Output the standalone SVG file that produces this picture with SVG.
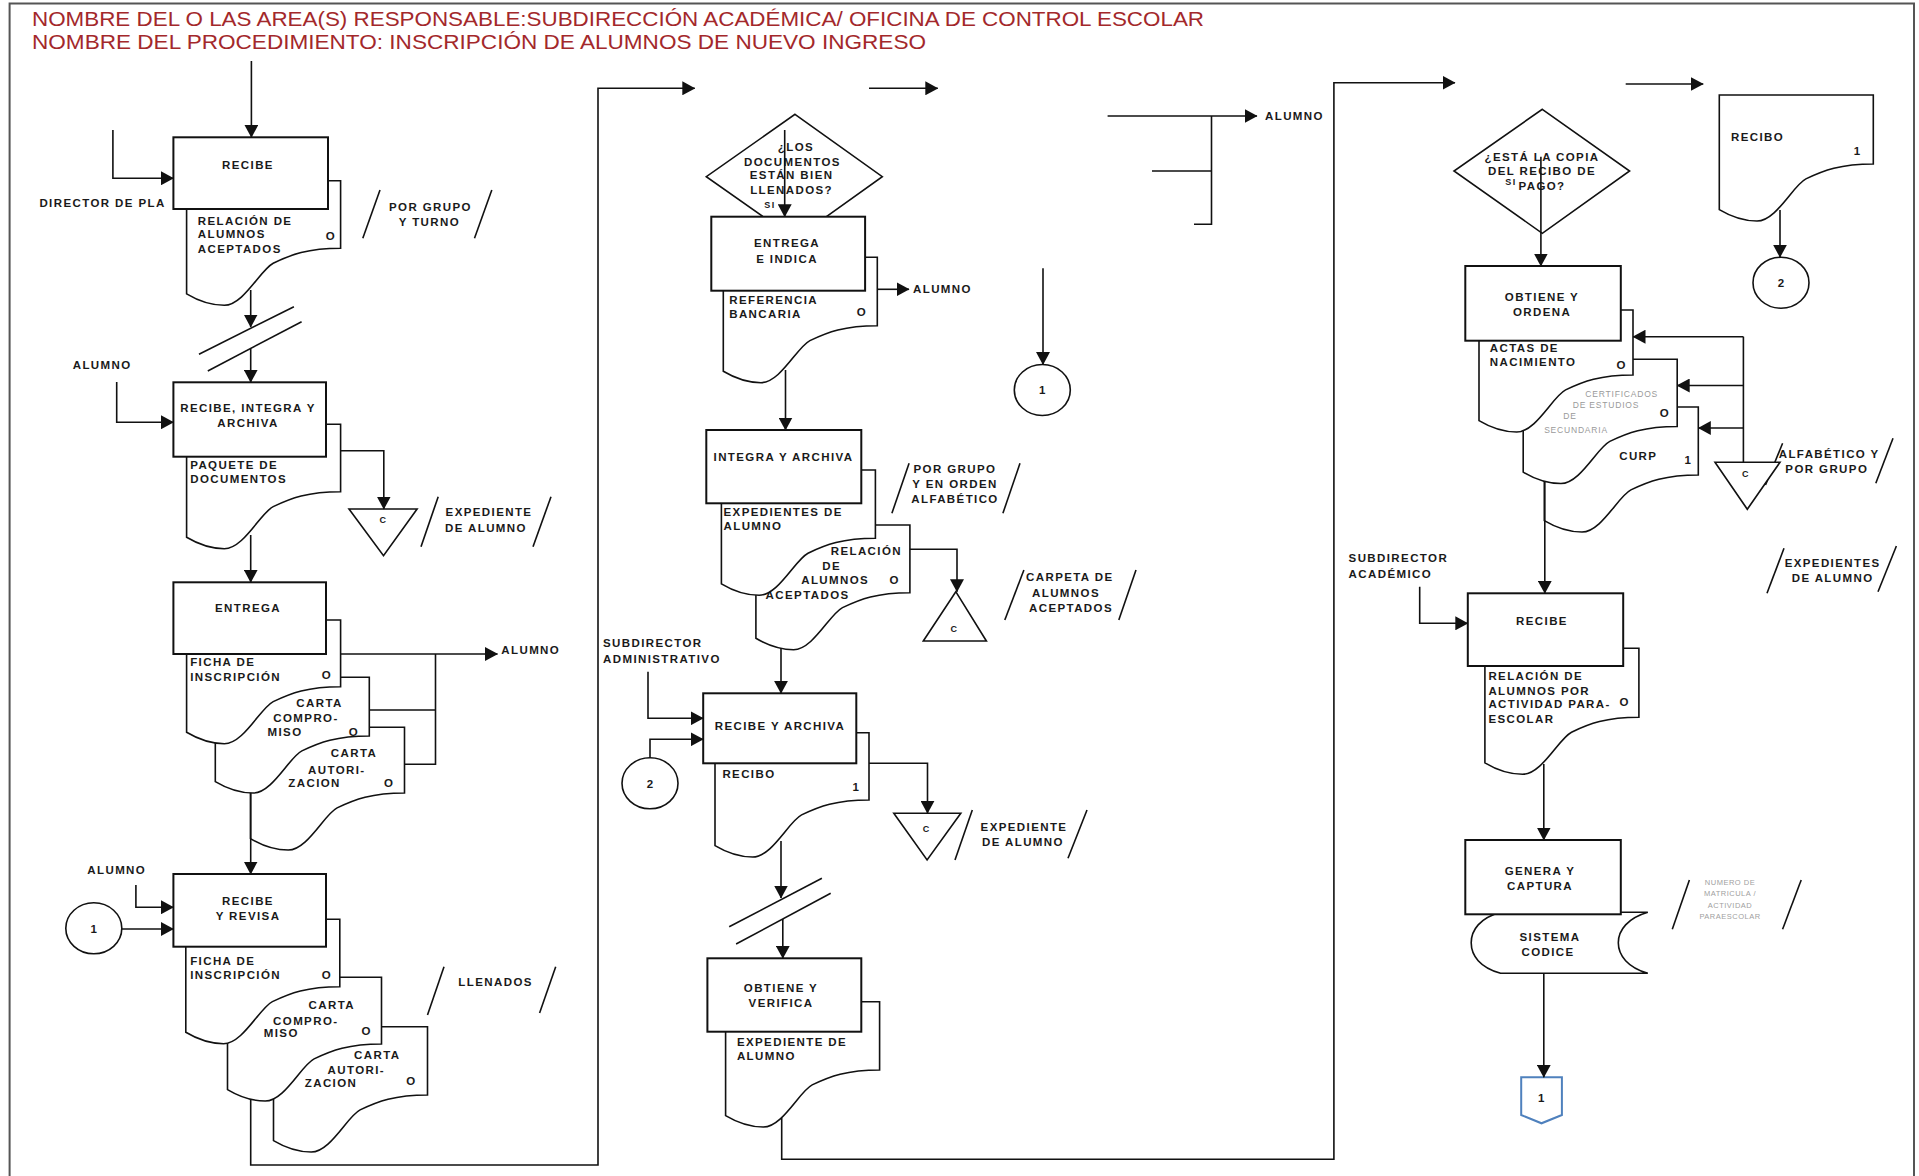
<svg xmlns="http://www.w3.org/2000/svg" width="1919" height="1176" viewBox="0 0 1919 1176">
<defs>
<marker id="ah" markerWidth="13" markerHeight="14" refX="12.5" refY="7" orient="auto" markerUnits="userSpaceOnUse"><path d="M0,0 L13,7 L0,14 z" fill="#111"/></marker>
<style>
.hd{font-family:"Liberation Sans",Arial,sans-serif;font-size:21px;fill:#A3282B}
.t{font-family:"Liberation Sans",Arial,sans-serif;font-size:11.5px;font-weight:bold;letter-spacing:1.4px;fill:#1a1a1a}
.m{text-anchor:middle}
.g{font-family:"Liberation Sans",Arial,sans-serif;font-size:8.5px;letter-spacing:0.8px;fill:#9a9a9a}
.g2{font-family:"Liberation Sans",Arial,sans-serif;font-size:7.5px;letter-spacing:0.5px;fill:#a0a0a0;text-anchor:middle}
.bx{fill:#fff;stroke:#111;stroke-width:2}
.dc{fill:#fff;stroke:#111;stroke-width:1.6}
.ln{fill:none;stroke:#111;stroke-width:1.6}
.ar{fill:none;stroke:#111;stroke-width:1.6;marker-end:url(#ah)}
.sl{stroke:#111;stroke-width:1.6}
.fr{fill:none;stroke:#555;stroke-width:2}
</style>
</defs>
<rect width="1919" height="1176" fill="#fff"/>
<path class="fr" d="M9.6,1176 V3.5 H1914 V1176"/>
<g id="header">
<text class="hd" x="32" y="25.5" textLength="1172" lengthAdjust="spacingAndGlyphs">NOMBRE DEL O LAS AREA(S) RESPONSABLE:SUBDIRECCIÓN ACADÉMICA/ OFICINA DE CONTROL ESCOLAR</text>
<text class="hd" x="32" y="49" textLength="894" lengthAdjust="spacingAndGlyphs">NOMBRE DEL PROCEDIMIENTO: INSCRIPCIÓN DE ALUMNOS DE NUEVO INGRESO</text>
</g>
<g id="labels">
<text class="t" x="39.4" y="207">DIRECTOR DE PLA</text>
<text class="t" x="72.7" y="368.5">ALUMNO</text>
<text class="t" x="501.3" y="653.5">ALUMNO</text>
<text class="t" x="87.3" y="873.8">ALUMNO</text>
<text class="t" x="913" y="292.8">ALUMNO</text>
<text class="t" x="1265" y="119.5">ALUMNO</text>
<text class="t" x="603" y="646.8">SUBDIRECTOR</text>
<text class="t" x="603" y="662.8">ADMINISTRATIVO</text>
<text class="t" x="1348.6" y="562">SUBDIRECTOR</text>
<text class="t" x="1348.6" y="577.8">ACADÉMICO</text>
</g>
<g id="a-turno"><line class="sl" x1="362.8" y1="238.3" x2="380" y2="190"/><text class="t m" x="430.5" y="210.5">POR GRUPO</text><text class="t m" x="429.4" y="226">Y TURNO</text><line class="sl" x1="474.5" y1="238.3" x2="491.8" y2="190"/></g>
<g id="a-exp1"><line class="sl" x1="421" y1="546.7" x2="438.2" y2="496.7"/><text class="t m" x="489" y="516">EXPEDIENTE</text><text class="t m" x="486" y="532">DE ALUMNO</text><line class="sl" x1="533" y1="546.7" x2="551" y2="496.7"/></g>
<g id="a-llenados"><line class="sl" x1="427.5" y1="1015" x2="444" y2="966.7"/><text class="t m" x="495.6" y="986">LLENADOS</text><line class="sl" x1="539.6" y1="1013" x2="555.7" y2="966.7"/></g>
<g id="a-orden"><line class="sl" x1="891.9" y1="513.3" x2="909.1" y2="463.3"/><text class="t m" x="955" y="472.8">POR GRUPO</text><text class="t m" x="955" y="487.8">Y EN ORDEN</text><text class="t m" x="955" y="502.8">ALFABÉTICO</text><line class="sl" x1="1002.9" y1="513.3" x2="1020" y2="463.3"/></g>
<g id="a-carpeta"><line class="sl" x1="1004.8" y1="620" x2="1023.9" y2="570"/><text class="t m" x="1069.8" y="581">CARPETA DE</text><text class="t m" x="1066" y="596.8">ALUMNOS</text><text class="t m" x="1071" y="612">ACEPTADOS</text><line class="sl" x1="1118.8" y1="620" x2="1136" y2="570"/></g>
<g id="a-exp2"><line class="sl" x1="955" y1="860" x2="972.3" y2="810"/><text class="t m" x="1024" y="830.5">EXPEDIENTE</text><text class="t m" x="1023" y="845.5">DE ALUMNO</text><line class="sl" x1="1068" y1="858.3" x2="1087" y2="810"/></g>
<g id="a-alfa"><line class="sl" x1="1765.5" y1="485" x2="1782.6" y2="443.3"/><text class="t m" x="1829.2" y="457.8">ALFABÉTICO Y</text><text class="t m" x="1826.8" y="472.8">POR GRUPO</text><line class="sl" x1="1875.8" y1="483.3" x2="1893" y2="438.3"/></g>
<g id="a-exp3"><line class="sl" x1="1767" y1="593.3" x2="1784" y2="548.3"/><text class="t m" x="1832.6" y="567">EXPEDIENTES</text><text class="t m" x="1832.6" y="582">DE ALUMNO</text><line class="sl" x1="1878" y1="591.7" x2="1896.4" y2="546"/></g>
<g id="a-matricula"><line class="sl" x1="1672.3" y1="929.3" x2="1689.4" y2="880"/><text class="g2" x="1730" y="884.5">NUMERO DE</text><text class="g2" x="1730" y="896">MATRICULA /</text><text class="g2" x="1730" y="908">ACTIVIDAD</text><text class="g2" x="1730" y="919">PARAESCOLAR</text><line class="sl" x1="1782.6" y1="929.3" x2="1801.2" y2="880"/></g>

<g id="n-d1"><path class="dc" d="M186.6,180.7 h154 V248.3 c-33.1,0 -49.7,6.4 -67.4,14.9 c-12.8,6.4 -29.6,42.1 -48.9,42.1 c-17.9,0 -31,-7.4 -37.7,-11.4 z"/><text class="t" x="197.8" y="224.5">RELACIÓN DE</text><text class="t" x="197.8" y="238">ALUMNOS</text><text class="t" x="197.8" y="252.8">ACEPTADOS</text><text class="t m" x="331" y="239.5">O</text></g>
<g id="n-recibe1"><rect class="bx" x="173.4" y="137.3" width="154.6" height="71.7"/><text class="t m" x="248" y="169">RECIBE</text></g>

<g id="n-d2"><path class="dc" d="M186.6,424.3 h154 V491.7 c-33.1,0 -49.7,6.4 -67.4,14.9 c-12.8,6.4 -29.6,42.1 -48.9,42.1 c-17.9,0 -31,-7.4 -37.7,-11.4 z"/><text class="t" x="190.2" y="468.8">PAQUETE DE</text><text class="t" x="190.2" y="482.8">DOCUMENTOS</text></g>
<g id="n-recibe-integra"><rect class="bx" x="173.4" y="382.3" width="152.6" height="74.4"/><text class="t m" x="248" y="412">RECIBE, INTEGRA Y</text><text class="t m" x="248" y="427">ARCHIVA</text></g>

<g id="n-d5"><path class="dc" d="M250.5,727.3 h154 V793 c-33.1,0 -49.7,6.4 -67.4,14.9 c-12.8,6.4 -29.6,42.1 -48.9,42.1 c-17.9,0 -31,-7.4 -37.7,-11.4 z"/><text class="t m" x="354" y="757">CARTA</text><text class="t m" x="336.8" y="773.8">AUTORI-</text><text class="t m" x="314.6" y="786.8">ZACION</text><text class="t m" x="389.2" y="786.5">O</text></g>
<g id="n-d4"><path class="dc" d="M215.3,677.3 h154 V736 c-33.1,0 -49.7,6.4 -67.4,14.9 c-12.8,6.4 -29.6,42.1 -48.9,42.1 c-17.9,0 -31,-7.4 -37.7,-11.4 z"/><text class="t m" x="319.5" y="707">CARTA</text><text class="t m" x="306" y="721.8">COMPRO-</text><text class="t m" x="285" y="735.5">MISO</text><text class="t m" x="354" y="735.5">O</text></g>
<g id="n-d3"><path class="dc" d="M186.6,620 h154 V686.7 c-33.1,0 -49.7,6.4 -67.4,14.9 c-12.8,6.4 -29.6,42.1 -48.9,42.1 c-17.9,0 -31,-7.4 -37.7,-11.4 z"/><text class="t" x="190.2" y="666">FICHA DE</text><text class="t" x="190.2" y="680.5">INSCRIPCIÓN</text><text class="t m" x="327" y="678.5">O</text></g>
<g id="n-entrega"><rect class="bx" x="173.4" y="582.3" width="152.6" height="71.7"/><text class="t m" x="248" y="612">ENTREGA</text></g>

<g id="n-d8"><path class="dc" d="M273.5,1026.7 h154 V1095 c-33.1,0 -49.7,6.4 -67.4,14.9 c-12.8,6.4 -29.6,42.1 -48.9,42.1 c-17.9,0 -31,-7.4 -37.7,-11.4 z"/><text class="t m" x="377.3" y="1058.5">CARTA</text><text class="t m" x="356.3" y="1074">AUTORI-</text><text class="t m" x="331" y="1087">ZACION</text><text class="t m" x="411.4" y="1084.5">O</text></g>
<g id="n-d7"><path class="dc" d="M227.5,977.3 h154 V1044 c-33.1,0 -49.7,6.4 -67.4,14.9 c-12.8,6.4 -29.6,42.1 -48.9,42.1 c-17.9,0 -31,-7.4 -37.7,-11.4 z"/><text class="t m" x="331.8" y="1008.5">CARTA</text><text class="t m" x="305.8" y="1024.5">COMPRO-</text><text class="t m" x="281.3" y="1037">MISO</text><text class="t m" x="366.6" y="1035">O</text></g>
<g id="n-d6"><path class="dc" d="M185.8,919.3 h154 V986.7 c-33.1,0 -49.7,6.4 -67.4,14.9 c-12.8,6.4 -29.6,42.1 -48.9,42.1 c-17.9,0 -31,-7.4 -37.7,-11.4 z"/><text class="t" x="190.2" y="965">FICHA DE</text><text class="t" x="190.2" y="978.5">INSCRIPCIÓN</text><text class="t m" x="327" y="978.5">O</text></g>
<g id="n-recibe-revisa"><rect class="bx" x="173.4" y="874" width="152.6" height="72.7"/><text class="t m" x="248" y="904.5">RECIBE</text><text class="t m" x="248" y="919.5">Y REVISA</text></g>
<g id="n-tri1"><path class="dc" d="M349,509 H417.1 L383.5,555.7 z"/><text class="t m" x="383.5" y="523" style="font-size:9px">C</text></g>
<g id="n-c1a"><ellipse class="dc" cx="93.8" cy="928.3" rx="28" ry="25.5"/><text class="t m" x="94.5" y="932.5">1</text></g>

<g id="n-dec1"><path class="dc" d="M795,114.3 L882.3,176.7 L795,239.1 L706.3,176.7 z"/><text class="t m" x="796" y="150.5">¿LOS</text><text class="t m" x="792.4" y="165.5">DOCUMENTOS</text><text class="t m" x="791.6" y="178.5">ESTÁN BIEN</text><text class="t m" x="791.6" y="193.8">LLENADOS?</text><text class="t m" x="770" y="208" style="font-size:9px">SI</text></g>
<g id="n-d9"><path class="dc" d="M723.3,257.3 h154 V325.7 c-33.1,0 -49.7,6.4 -67.4,14.9 c-12.8,6.4 -29.6,42.1 -48.9,42.1 c-17.9,0 -31,-7.4 -37.7,-11.4 z"/><text class="t" x="729.2" y="303.8">REFERENCIA</text><text class="t" x="729.2" y="317.8">BANCARIA</text><text class="t m" x="862" y="316">O</text></g>
<g id="n-entrega-indica"><rect class="bx" x="711.3" y="216.7" width="153.8" height="74"/><text class="t m" x="787" y="247">ENTREGA</text><text class="t m" x="787" y="263">E INDICA</text></g>
<g id="n-c1b"><ellipse class="dc" cx="1042.3" cy="390" rx="28" ry="25.5"/><text class="t m" x="1043" y="394">1</text></g>

<g id="n-d11"><path class="dc" d="M755.9,525 h154 V592.7 c-33.1,0 -49.7,6.4 -67.4,14.9 c-12.8,6.4 -29.6,42.1 -48.9,42.1 c-17.9,0 -31,-7.4 -37.7,-11.4 z"/><text class="t" x="830.7" y="554.5">RELACIÓN</text><text class="t" x="822.2" y="569.5">DE</text><text class="t" x="801.2" y="583.8">ALUMNOS</text><text class="t" x="765.6" y="598.5">ACEPTADOS</text><text class="t m" x="894.6" y="583.8">O</text></g>
<g id="n-d10"><path class="dc" d="M721.4,470 h154 V538.3 c-33.1,0 -49.7,6.4 -67.4,14.9 c-12.8,6.4 -29.6,42.1 -48.9,42.1 c-17.9,0 -31,-7.4 -37.7,-11.4 z"/><text class="t" x="723.5" y="516">EXPEDIENTES DE</text><text class="t" x="723.5" y="530">ALUMNO</text></g>
<g id="n-integra"><rect class="bx" x="706.3" y="430" width="155" height="73.3"/><text class="t m" x="783.5" y="460.5">INTEGRA Y ARCHIVA</text></g>
<g id="n-tri2"><path class="dc" d="M955.8,591.7 L986.4,641 H923.3 z"/><text class="t m" x="954.5" y="632" style="font-size:9px">C</text></g>

<g id="n-d12"><path class="dc" d="M715,732.7 h154 V800 c-33.1,0 -49.7,6.4 -67.4,14.9 c-12.8,6.4 -29.6,42.1 -48.9,42.1 c-17.9,0 -31,-7.4 -37.7,-11.4 z"/><text class="t" x="722.4" y="777.8">RECIBO</text><text class="t m" x="856.3" y="790.5">1</text></g>
<g id="n-recibe-archiva"><rect class="bx" x="703.2" y="693.3" width="153.1" height="70"/><text class="t m" x="780" y="729.5">RECIBE Y ARCHIVA</text></g>
<g id="n-c2a"><ellipse class="dc" cx="650" cy="783.3" rx="28" ry="25.5"/><text class="t m" x="650.7" y="787.5">2</text></g>
<g id="n-tri3"><path class="dc" d="M893.8,813.3 H960.8 L927.1,860 z"/><text class="t m" x="926.8" y="832" style="font-size:9px">C</text></g>

<g id="n-d13"><path class="dc" d="M725.6,1001.7 h154 V1070 c-33.1,0 -49.7,6.4 -67.4,14.9 c-12.8,6.4 -29.6,42.1 -48.9,42.1 c-17.9,0 -31,-7.4 -37.7,-11.4 z"/><text class="t" x="736.9" y="1046">EXPEDIENTE DE</text><text class="t" x="736.9" y="1060">ALUMNO</text></g>
<g id="n-obtiene-verifica"><rect class="bx" x="707.4" y="958.3" width="153.9" height="73.4"/><text class="t m" x="781" y="992">OBTIENE Y</text><text class="t m" x="781" y="1007">VERIFICA</text></g>

<g id="n-dec2"><path class="dc" d="M1542.3,109.3 L1629.6,171 L1542.3,233.3 L1454,171 z"/><text class="t m" x="1542" y="161">¿ESTÁ LA COPIA</text><text class="t m" x="1542" y="174.5">DEL RECIBO DE</text><text class="t m" x="1542" y="189.5">PAGO?</text><text class="t m" x="1511" y="185" style="font-size:9px">SI</text></g>
<g id="n-d18"><path class="dc" d="M1719.3,95 h154 V164 c-33.1,0 -49.7,6.4 -67.4,14.9 c-12.8,6.4 -29.6,42.1 -48.9,42.1 c-17.9,0 -31,-7.4 -37.7,-11.4 z"/><text class="t" x="1731" y="140.5">RECIBO</text><text class="t m" x="1857.6" y="154.5">1</text></g>
<g id="n-c2b"><ellipse class="dc" cx="1781" cy="282.7" rx="28" ry="25.5"/><text class="t m" x="1781.7" y="287">2</text></g>

<g id="n-d16"><path class="dc" d="M1544.3,407 h154 V475 c-33.1,0 -49.7,6.4 -67.4,14.9 c-12.8,6.4 -29.6,42.1 -48.9,42.1 c-17.9,0 -31,-7.4 -37.7,-11.4 z"/><text class="t m" x="1638.3" y="459.5">CURP</text><text class="t m" x="1688.3" y="464">1</text></g>
<g id="n-d15"><path class="dc" d="M1523.2,359.3 h154 V426.5 c-33.1,0 -49.7,6.4 -67.4,14.9 c-12.8,6.4 -29.6,42.1 -48.9,42.1 c-17.9,0 -31,-7.4 -37.7,-11.4 z"/><text class="g" x="1621.7" y="396.5" text-anchor="middle">CERTIFICADOS</text><text class="g" x="1606" y="407.5" text-anchor="middle">DE ESTUDIOS</text><text class="g" x="1570" y="419.2" text-anchor="middle">DE</text><text class="g" x="1576" y="432.5" text-anchor="middle">SECUNDARIA</text><text class="t m" x="1665" y="417">O</text></g>
<g id="n-d14"><path class="dc" d="M1479,310 h154 V375 c-33.1,0 -49.7,6.4 -67.4,14.9 c-12.8,6.4 -29.6,42.1 -48.9,42.1 c-17.9,0 -31,-7.4 -37.7,-11.4 z"/><text class="t" x="1489.8" y="351.8">ACTAS DE</text><text class="t" x="1489.8" y="366.2">NACIMIENTO</text><text class="t m" x="1621.8" y="368.5">O</text></g>
<g id="n-obtiene-ordena"><rect class="bx" x="1465.3" y="266" width="155.5" height="74.7"/><text class="t m" x="1542" y="301">OBTIENE Y</text><text class="t m" x="1542" y="316">ORDENA</text></g>
<g id="n-tri4"><path class="dc" d="M1715,462.3 H1780 L1747.3,509.3 z"/><text class="t m" x="1746" y="477" style="font-size:9px">C</text></g>

<g id="n-d17"><path class="dc" d="M1484.9,648.3 h154 V717.3 c-33.1,0 -49.7,6.4 -67.4,14.9 c-12.8,6.4 -29.6,42.1 -48.9,42.1 c-17.9,0 -31,-7.4 -37.7,-11.4 z"/><text class="t" x="1488.4" y="679.5">RELACIÓN DE</text><text class="t" x="1488.4" y="694.5">ALUMNOS POR</text><text class="t" x="1488.4" y="707.8">ACTIVIDAD PARA-</text><text class="t" x="1488.4" y="722.8">ESCOLAR</text><text class="t m" x="1624.7" y="706">O</text></g>
<g id="n-recibe3"><rect class="bx" x="1467.8" y="593.3" width="155.4" height="72.7"/><text class="t m" x="1542" y="625">RECIBE</text></g>

<g id="n-sistema"><path class="dc" d="M1500.6,912.3 H1647.8 C1628,918 1618.3,930 1618.3,942.8 C1618.3,955.6 1628,967.5 1647.8,973.3 H1500.6 C1480,967.5 1471.2,955.6 1471.2,942.8 C1471.2,930 1480,918 1500.6,912.3 z"/><text class="t m" x="1550" y="941">SISTEMA</text><text class="t m" x="1548" y="956">CODICE</text></g>
<g id="n-genera"><rect class="bx" x="1465.3" y="840" width="155.5" height="74.3"/><text class="t m" x="1540" y="874.5">GENERA Y</text><text class="t m" x="1540" y="889.5">CAPTURA</text></g>
<g id="n-offpage"><path d="M1521.2,1077.3 H1561.9 V1115 L1541.5,1123.3 L1521.2,1115 z" fill="#fff" stroke="#4F81BD" stroke-width="2"/><text class="t m" x="1542" y="1102">1</text></g>

<g id="connectors">
<path class="ar" d="M251.4,61 V137.3"/>
<path class="ar" d="M112.9,130 V178.3 H173.4"/>
<path class="ar" d="M250.7,290 V327"/>
<line class="sl" x1="199" y1="354.3" x2="293.9" y2="306.7"/>
<line class="sl" x1="207.8" y1="371" x2="301.6" y2="321.7"/>
<path class="ar" d="M250.7,348.5 V382.3"/>
<path class="ar" d="M116.7,382 V422.3 H173.4"/>
<path class="ar" d="M340.6,450.7 H383.8 V509"/>
<path class="ar" d="M250.7,535 V582.3"/>
<path class="ar" d="M340.6,654 H497.5"/>
<path class="ln" d="M435.5,654 V764.3 H404.5 M369.3,710 H435.5"/>
<path class="ar" d="M250.7,793 V874"/>
<path class="ar" d="M135.9,885 V907.3 H173.4"/>
<path class="ar" d="M121.8,929 H173.4"/>
<path class="ar" d="M250.7,1099 V1165 H598 V88.3 H694.8"/>
<path class="ar" d="M869,88.3 H937.8"/>
<path class="ar" d="M1107.6,116 H1257"/>
<path class="ln" d="M1211.5,116 V224.3 H1194 M1152,171 H1211.5"/>
<path class="ar" d="M784.7,130 V216.7"/>
<path class="ar" d="M877.3,289.3 H909"/>
<path class="ar" d="M785.5,370 V430"/>
<path class="ar" d="M1043,268.3 V364.5"/>
<path class="ar" d="M909.9,549.3 H957 V591.7"/>
<path class="ar" d="M781,648 V693.3"/>
<path class="ar" d="M648,671.7 V718.3 H703.2"/>
<path class="ar" d="M650,757.8 V739.3 H703.2"/>
<path class="ar" d="M869,763.3 H927.5 V813.3"/>
<path class="ar" d="M781,841 V898"/>
<line class="sl" x1="729.2" y1="926.7" x2="821.9" y2="878.3"/>
<line class="sl" x1="736.1" y1="944" x2="830.7" y2="893.3"/>
<path class="ar" d="M782.8,919 V958.3"/>
<path class="ar" d="M781.7,1118 V1159.3 H1333.9 V82.7 H1455"/>
<path class="ar" d="M1625.7,84 H1703.2"/>
<path class="ar" d="M1540.9,156.7 V266"/>
<path class="ar" d="M1780,210 V257.2"/>
<path class="ln" d="M1743.4,336.7 V462.3"/>
<path class="ar" d="M1743.4,336.7 H1633"/>
<path class="ar" d="M1743.4,385.5 H1677.2"/>
<path class="ar" d="M1743.4,428 H1698.3"/>
<path class="ar" d="M1544.8,482 V593.3"/>
<path class="ar" d="M1419.7,586.7 V623.3 H1467.8"/>
<path class="ar" d="M1543.8,764 V840"/>
<path class="ar" d="M1543.8,973.3 V1077.3"/>
</g>
</svg>
